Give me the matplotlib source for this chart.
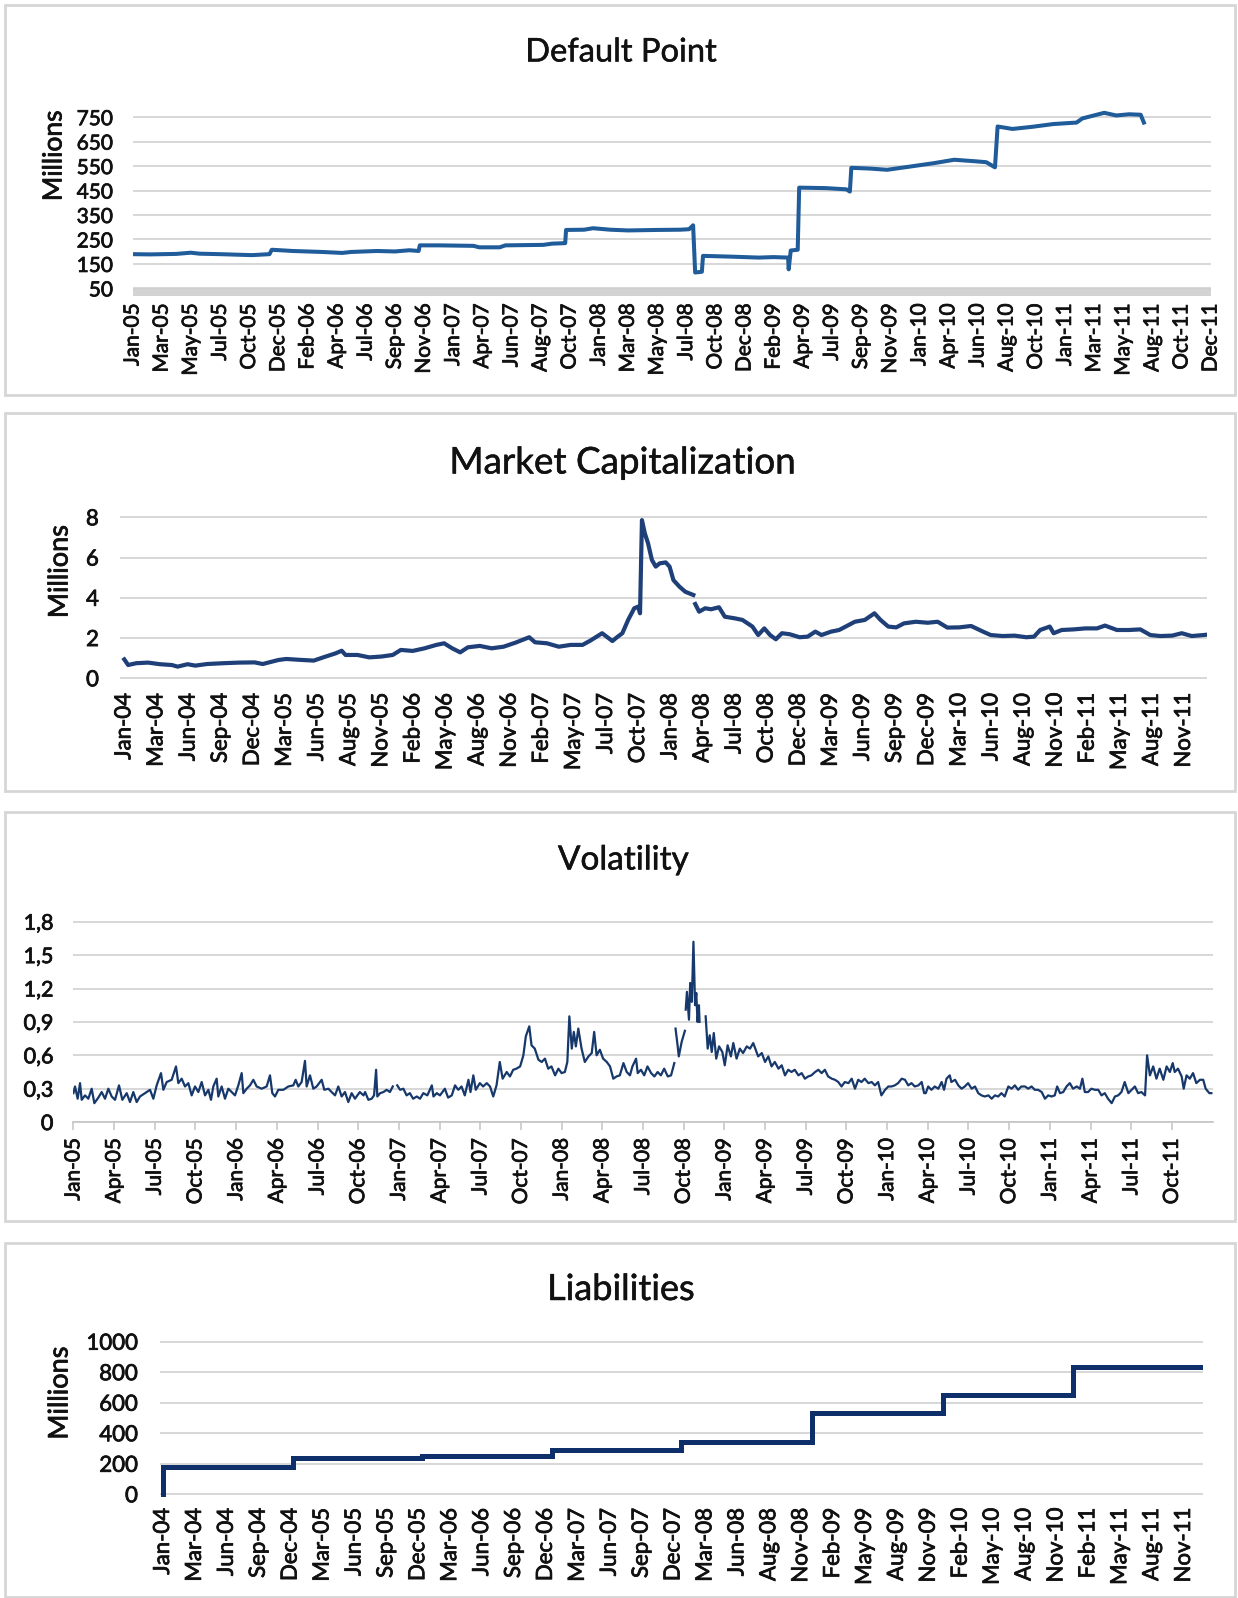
import numpy as np
import matplotlib
matplotlib.use("Agg")
import matplotlib.pyplot as plt
from matplotlib.patches import Rectangle
from matplotlib import patheffects as pe

plt.rcParams['font.family'] = ['Lato', 'DejaVu Sans']

W, H = 1238, 1598
nan = np.nan

# ---------------- Default Point ----------------
dp_labels = ["Jan-05", "Mar-05", "May-05", "Jul-05", "Oct-05", "Dec-05", "Feb-06", "Apr-06",
             "Jul-06", "Sep-06", "Nov-06", "Jan-07", "Apr-07", "Jun-07", "Aug-07", "Oct-07",
             "Jan-08", "Mar-08", "May-08", "Jul-08", "Oct-08", "Dec-08", "Feb-09", "Apr-09",
             "Jul-09", "Sep-09", "Nov-09", "Jan-10", "Apr-10", "Jun-10", "Aug-10", "Oct-10",
             "Jan-11", "Mar-11", "May-11", "Aug-11", "Oct-11", "Dec-11"]
dp_yticks = [50, 150, 250, 350, 450, 550, 650, 750]
dp_x = [0, 0.6, 1.5, 2.0, 2.3, 3.0, 4.1, 4.7, 4.78, 5.5, 6.5, 7.2, 7.5, 8.4, 9.0, 9.5, 9.82,
        9.86, 10.5, 11.7, 11.9, 12.6, 12.8, 14.1, 14.4, 14.85, 14.88, 15.5, 15.8, 16.4, 17.0,
        18.0, 18.8, 19.1, 19.24, 19.31, 19.54, 19.58, 20.5, 21.5, 22.0, 22.5, 22.52, 22.59,
        22.83, 22.88, 23.8, 24.5, 24.62, 24.67, 25.3, 25.9, 26.5, 27.5, 28.2, 28.9, 29.3,
        29.6, 29.69, 30.2, 30.9, 31.6, 32.4, 32.6, 33.35, 33.76, 34.2, 34.6, 34.71]
dp_v = [190, 189, 191, 196, 192, 190, 186, 190, 208, 203, 199, 195, 199, 203, 201, 206, 203,
        226, 226, 224, 218, 218, 226, 228, 233, 235, 289, 290, 296, 290, 287,
        289, 290, 292, 308, 115, 118, 183, 180, 176, 178, 176, 128, 205,
        208, 462, 460, 455, 446, 543, 540, 535, 545, 562, 576, 570, 566,
        545, 712, 702, 711, 722, 728, 745, 768, 757, 762, 760, 728]

# ---------------- Market Capitalization ----------------
mc_labels = ["Jan-04", "Mar-04", "Jun-04", "Sep-04", "Dec-04", "Mar-05", "Jun-05", "Aug-05",
             "Nov-05", "Feb-06", "May-06", "Aug-06", "Nov-06", "Feb-07", "May-07", "Jul-07",
             "Oct-07", "Jan-08", "Apr-08", "Jul-08", "Oct-08", "Dec-08", "Mar-09", "Jun-09",
             "Sep-09", "Dec-09", "Mar-10", "Jun-10", "Aug-10", "Nov-10", "Feb-11", "May-11",
             "Aug-11", "Nov-11"]
mc_yticks = [0, 2, 4, 6, 8]
mc_x = [0.0, 0.12, 0.37, 0.74, 1.11, 1.48, 1.66, 1.97, 2.21, 2.58, 3.08, 3.57, 4.06, 4.31,
        4.80, 5.04, 5.54, 5.90, 6.27, 6.58, 6.77, 6.89, 7.26, 7.63, 8.00, 8.36, 8.61, 8.98,
        9.35, 9.72, 9.96, 10.21, 10.46, 10.70, 11.07, 11.44, 11.81, 12.18, 12.61, 12.79,
        13.16, 13.53, 13.90, 14.27, 14.51, 14.88, 15.2, 15.35, 15.51, 15.69, 15.88, 16.00,
        16.06, 16.12, 16.21, 16.31, 16.43, 16.55, 16.67, 16.86, 16.98, 17.10, 17.29, 17.47,
        17.72, 17.75, 17.78, 17.90, 18.09, 18.27, 18.52, 18.70, 19.01, 19.25, 19.56, 19.74,
        19.93, 20.11, 20.29, 20.48, 20.72, 21.03, 21.28, 21.52, 21.71, 22.01, 22.26, 22.50,
        22.75, 23.06, 23.36, 23.55, 23.79, 24.04, 24.28, 24.65, 25.02, 25.33, 25.63, 26.00,
        26.37, 26.74, 26.98, 27.35, 27.72, 28.09, 28.33, 28.52, 28.82, 28.94, 29.19, 29.56,
        29.93, 30.29, 30.54, 30.91, 31.28, 31.64, 31.95, 32.26, 32.63, 32.93, 33.24, 33.61,
        33.73]
mc_v = [0.94, 0.66, 0.75, 0.78, 0.70, 0.66, 0.58, 0.70, 0.63, 0.71, 0.75, 0.78, 0.79, 0.71,
        0.91, 0.96, 0.91, 0.88, 1.08, 1.24, 1.37, 1.16, 1.16, 1.04, 1.08, 1.16, 1.41, 1.36,
        1.49, 1.66, 1.74, 1.49, 1.29, 1.54, 1.61, 1.49, 1.57, 1.77, 2.04, 1.79,
        1.74, 1.57, 1.66, 1.66, 1.87, 2.24, 1.85, 2.05, 2.24, 2.90, 3.48, 3.56,
        3.23, 7.86, 7.20, 6.71, 5.88, 5.55, 5.71, 5.76, 5.55, 4.88, 4.55, 4.30,
        4.14, nan, 3.69, 3.31, 3.48, 3.43, 3.53, 3.06, 2.98, 2.90, 2.57, 2.15,
        2.48, 2.15, 1.94, 2.24, 2.19, 2.04, 2.07, 2.32, 2.15, 2.32, 2.40, 2.60,
        2.81, 2.90, 3.23, 2.90, 2.57, 2.53, 2.73, 2.81, 2.76, 2.81, 2.52, 2.53,
        2.60, 2.32, 2.15, 2.10, 2.12, 2.04, 2.07, 2.40, 2.57, 2.24, 2.40, 2.43,
        2.48, 2.48, 2.62, 2.40, 2.40, 2.43, 2.15, 2.10, 2.12, 2.24, 2.10, 2.15,
        2.17]

# ---------------- Volatility ----------------
vol_labels = ["Jan-05", "Apr-05", "Jul-05", "Oct-05", "Jan-06", "Apr-06", "Jul-06", "Oct-06",
              "Jan-07", "Apr-07", "Jul-07", "Oct-07", "Jan-08", "Apr-08", "Jul-08", "Oct-08",
              "Jan-09", "Apr-09", "Jul-09", "Oct-09", "Jan-10", "Apr-10", "Jul-10", "Oct-10",
              "Jan-11", "Apr-11", "Jul-11", "Oct-11"]
vol_yticks = [0, 0.3, 0.6, 0.9, 1.2, 1.5, 1.8]
vol_yticklabels = ["0", "0,3", "0,6", "0,9", "1,2", "1,5", "1,8"]
vol_q = [0.00, 0.04, 0.105, 0.163, 0.204, 0.285, 0.367, 0.449, 0.515, 0.613, 0.695, 0.777,
         0.859, 0.941, 1.023, 1.121, 1.203, 1.310, 1.391, 1.473, 1.555, 1.637, 1.760, 1.883,
         1.965, 2.047, 2.153, 2.211, 2.293, 2.415, 2.522, 2.579, 2.661, 2.743, 2.825, 2.907,
         2.989, 3.071, 3.153, 3.235, 3.317, 3.382, 3.439, 3.521, 3.562, 3.644, 3.726, 3.808,
         3.890, 3.972, 4.054, 4.136, 4.177, 4.259, 4.341, 4.423, 4.504, 4.627, 4.750, 4.832,
         4.889, 4.955, 5.037, 5.160, 5.283, 5.406, 5.463, 5.528, 5.610, 5.692, 5.733, 5.815,
         5.897, 5.979, 6.102, 6.167, 6.266, 6.348, 6.430, 6.511, 6.593, 6.675, 6.757, 6.839,
         6.921,
         6.96, 7.04, 7.13, 7.17, 7.25, 7.33, 7.39, 7.44, 7.47, 7.54, 7.62, 7.70, 7.78, 7.85,
         7.90, 7.96, 8.03, 8.11, 8.19, 8.27, 8.35, 8.44, 8.52, 8.60, 8.70, 8.81, 8.85, 8.93,
         9.01, 9.13, 9.21, 9.30, 9.38, 9.46, 9.54, 9.62, 9.71, 9.76, 9.83, 9.89, 9.99, 10.07,
         10.16, 10.24, 10.32, 10.40, 10.48, 10.55, 10.65, 10.73, 10.81, 10.89, 10.98, 11.06,
         11.12, 11.205, 11.26, 11.34, 11.43, 11.51, 11.59, 11.67, 11.75, 11.84, 11.92, 12.00,
         12.08, 12.14, 12.19, 12.25, 12.30, 12.35, 12.41, 12.49, 12.57, 12.66, 12.74, 12.80,
         12.86, 12.94, 13.02, 13.11, 13.19, 13.27, 13.35, 13.43, 13.52, 13.60, 13.68, 13.74,
         13.83,
         13.87, 13.95, 14.03, 14.11, 14.20, 14.28, 14.36, 14.44, 14.52, 14.61, 14.69, 14.77,
         14.785, 14.80, 14.85, 14.88, 14.95, 15.03, 15.04, 15.05, 15.08, 15.13, 15.16, 15.20,
         15.24, 15.28, 15.31, 15.34, 15.375, 15.39, 15.47, 15.54, 15.59, 15.64, 15.69, 15.74,
         15.80, 15.87, 15.95, 16.01, 16.08, 16.16, 16.22, 16.30, 16.38, 16.46, 16.55, 16.63,
         16.71, 16.77, 16.83, 16.92, 17.00, 17.08, 17.16, 17.24, 17.33, 17.41, 17.49, 17.57,
         17.65, 17.73, 17.82, 17.90, 17.98, 18.06, 18.14, 18.23, 18.31, 18.39, 18.47, 18.55,
         18.64, 18.72, 18.80, 18.88, 18.96, 19.05, 19.13, 19.21, 19.29, 19.37, 19.45, 19.54,
         19.62, 19.70, 19.78, 19.86, 19.95, 20.03, 20.11, 20.19, 20.27, 20.36, 20.44, 20.52,
         20.60, 20.68, 20.77, 20.85,
         20.91, 20.95, 21.01, 21.09, 21.17, 21.26, 21.34, 21.40, 21.46, 21.54, 21.58, 21.67,
         21.75, 21.83, 21.91, 21.99, 22.08, 22.16, 22.24, 22.32, 22.40, 22.49, 22.57, 22.65,
         22.73, 22.81, 22.89, 22.98, 23.06, 23.14, 23.22, 23.30, 23.39, 23.47, 23.55, 23.63,
         23.71, 23.80, 23.88, 23.96, 24.04, 24.12, 24.18, 24.25, 24.33, 24.41, 24.49, 24.57,
         24.66, 24.74, 24.80, 24.86, 24.94, 25.02, 25.11, 25.19, 25.27, 25.35, 25.43, 25.52,
         25.60, 25.68, 25.76, 25.84, 25.93, 26.01, 26.09, 26.17, 26.25, 26.34, 26.39, 26.46,
         26.54, 26.62, 26.70, 26.79, 26.87, 26.95, 27.02, 27.07, 27.15, 27.24, 27.29, 27.36,
         27.44, 27.52, 27.60, 27.69, 27.77, 27.83, 27.92, 27.97]
vol_v = [0.26, 0.32, 0.21, 0.35, 0.20, 0.24, 0.21, 0.30, 0.17, 0.22, 0.27, 0.21,
         0.30, 0.23, 0.20, 0.33, 0.20, 0.26, 0.18, 0.27, 0.18, 0.23, 0.26, 0.29,
         0.21, 0.33, 0.44, 0.29, 0.36, 0.38, 0.50, 0.35, 0.39, 0.32, 0.35, 0.24,
         0.32, 0.27, 0.36, 0.24, 0.29, 0.20, 0.32, 0.39, 0.23, 0.32, 0.21, 0.30,
         0.27, 0.24, 0.33, 0.44, 0.26, 0.30, 0.33, 0.38, 0.32, 0.30, 0.32, 0.42,
         0.26, 0.23, 0.29, 0.29, 0.32, 0.33, 0.38, 0.32, 0.36, 0.55, 0.32, 0.42,
         0.30, 0.32, 0.38, 0.29, 0.30, 0.27, 0.24, 0.32, 0.23, 0.27, 0.18, 0.26,
         0.21,
         0.23, 0.27, 0.24, 0.27, 0.20, 0.21, 0.24, 0.47, 0.23, 0.26, 0.27, 0.29, 0.27, 0.32,
         nan, 0.33, 0.29, 0.30, 0.24, 0.26, 0.21, 0.23, 0.21, 0.26, 0.24, 0.33, 0.23, 0.26,
         0.24, 0.30, 0.22, 0.24, 0.33, 0.29, 0.32, 0.24, 0.38, 0.27, 0.42, 0.29, 0.35, 0.32,
         0.35, 0.32, 0.23, 0.33, 0.54, 0.39, 0.45, 0.41, 0.47, 0.48, 0.50, 0.60,
         0.77, 0.86, 0.69, 0.66, 0.56, 0.54, 0.57, 0.48, 0.50, 0.42, 0.48, 0.44,
         0.45, 0.54, 0.95, 0.66, 0.81, 0.68, 0.84, 0.66, 0.54, 0.59, 0.62, 0.81,
         0.60, 0.65, 0.57, 0.54, 0.50, 0.39, 0.41, 0.42, 0.53, 0.45, 0.42, 0.50,
         0.57,
         0.44, 0.47, 0.42, 0.50, 0.44, 0.41, 0.45, 0.42, 0.48, 0.41, 0.42, 0.53,
         nan, 0.84, 0.69, 0.59, 0.72, 0.82, nan, 1.01, 1.17, 0.92, 1.25, 1.08,
         1.62, 1.05, 1.16, 0.90, 1.05, 0.90, nan, 0.95, 0.66, 0.78, 0.63, 0.80,
         0.57, 0.68, 0.63, 0.51, 0.69, 0.59, 0.71, 0.57, 0.66, 0.62, 0.68, 0.66,
         0.71, 0.65, 0.59, 0.62, 0.54, 0.59, 0.50, 0.54, 0.48, 0.51, 0.42, 0.47,
         0.45, 0.47, 0.42, 0.44, 0.39, 0.41, 0.42, 0.45, 0.47, 0.44, 0.47, 0.41,
         0.39, 0.38, 0.36, 0.32, 0.36, 0.35, 0.39, 0.30, 0.38, 0.36, 0.39, 0.35,
         0.36, 0.33, 0.36, 0.24, 0.29, 0.32, 0.32, 0.33, 0.35, 0.39, 0.38, 0.33,
         0.35, 0.32, 0.33, 0.36,
         0.26, 0.26, 0.32, 0.29, 0.32, 0.30, 0.36, 0.29, 0.39, 0.42, 0.36, 0.38,
         0.33, 0.30, 0.32, 0.35, 0.30, 0.32, 0.26, 0.24, 0.23, 0.24, 0.21, 0.24,
         0.23, 0.26, 0.23, 0.32, 0.30, 0.33, 0.29, 0.32, 0.32, 0.30, 0.32, 0.29,
         0.29, 0.27, 0.21, 0.24, 0.23, 0.24, 0.32, 0.26, 0.27, 0.32, 0.35, 0.30,
         0.32, 0.30, 0.39, 0.27, 0.27, 0.30, 0.29, 0.29, 0.24, 0.26, 0.21, 0.17,
         0.23, 0.24, 0.27, 0.36, 0.26, 0.29, 0.32, 0.26, 0.27, 0.24, 0.60, 0.42,
         0.50, 0.39, 0.48, 0.38, 0.50, 0.45, 0.53, 0.45, 0.48, 0.41, 0.30, 0.42,
         0.39, 0.44, 0.35, 0.38, 0.38, 0.30, 0.26, 0.26]

# ---------------- Liabilities ----------------
li_labels = ["Jan-04", "Mar-04", "Jun-04", "Sep-04", "Dec-04", "Mar-05", "Jun-05", "Sep-05",
             "Dec-05", "Mar-06", "Jun-06", "Sep-06", "Dec-06", "Mar-07", "Jun-07", "Sep-07",
             "Dec-07", "Mar-08", "Jun-08", "Aug-08", "Nov-08", "Feb-09", "May-09", "Aug-09",
             "Nov-09", "Feb-10", "May-10", "Aug-10", "Nov-10", "Feb-11", "May-11", "Aug-11",
             "Nov-11"]
li_yticks = [0, 200, 400, 600, 800, 1000]
li_x = [0, 0, 4.06, 8.12, 12.2, 16.24, 20.34, 24.45, 28.51, 32.6]
li_v = [0, 178, 237, 254, 288, 346, 535, 650, 834, 834]

# ---------------- styling ----------------
GRID = '#cdcdcd'
BOX = '#d6d6d6'
TXT = '#111111'
EFF = [pe.withStroke(linewidth=0.55, foreground=TXT)]
EFF_T = [pe.withStroke(linewidth=0.35, foreground=TXT)]


def rect_from_px(xpx, xref, ypx, yref, xlim, ylim):
    sx = (xpx[1] - xpx[0]) / (xref[1] - xref[0])
    sy = (ypx[1] - ypx[0]) / (yref[1] - yref[0])
    lpx = xpx[0] + (xlim[0] - xref[0]) * sx
    rpx = xpx[0] + (xlim[1] - xref[0]) * sx
    bpx = ypx[0] + (ylim[0] - yref[0]) * sy
    tpx = ypx[0] + (ylim[1] - yref[0]) * sy
    return [lpx / W, 1 - bpx / H, (rpx - lpx) / W, (bpx - tpx) / H]


def base_style(ax, xlabels, yticks, yticklabels, fs_y, fs_x, pad_y, pad_x):
    for s in ax.spines.values():
        s.set_visible(False)
    ax.set_xticks(range(len(xlabels)))
    ax.set_xticklabels(xlabels, rotation=90)
    ax.set_yticks(yticks)
    ax.set_yticklabels(yticklabels)
    ax.yaxis.grid(True, color=GRID, lw=1.1)
    ax.xaxis.grid(False)
    ax.set_axisbelow(True)
    ax.tick_params(axis='y', length=0, pad=pad_y, labelsize=fs_y, labelcolor=TXT)
    ax.tick_params(axis='x', length=0, pad=pad_x, labelsize=fs_x, labelcolor=TXT)
    for t in ax.get_xticklabels() + ax.get_yticklabels():
        t.set_path_effects(EFF)
    ax.set_facecolor('none')


fig = plt.figure(figsize=(W / 100, H / 100), dpi=100)
fig.patch.set_facecolor('white')

# panel boxes
for (x0, y0, x1, y1) in [(5, 5, 1235, 395), (5, 413, 1235, 791),
                         (5, 812, 1235, 1221), (5, 1243, 1235, 1597)]:
    fig.patches.append(Rectangle((x0 / W, 1 - y1 / H), (x1 - x0) / W, (y1 - y0) / H,
                                 transform=fig.transFigure, fill=False,
                                 edgecolor=BOX, lw=2.0))


def title(x, y, s, fs):
    fig.text(x / W, 1 - y / H, s, ha='center', va='baseline', fontsize=fs, color=TXT,
             path_effects=EFF_T)


def millions(x, y, fs):
    fig.text(x / W, 1 - y / H, "Millions", rotation=90, ha='center', va='center',
             fontsize=fs, color=TXT, path_effects=EFF)


# ---- Panel 1: Default Point ----
xl, yl = (0, 37), (17, 800)
ax1 = fig.add_axes(rect_from_px((132.5, 1210.6), (0, 37), (288.4, 117.2), (50, 750), xl, yl))
ax1.set_xlim(*xl)
ax1.set_ylim(*yl)
base_style(ax1, dp_labels, dp_yticks, [str(t) for t in dp_yticks], 15, 15, 14, 5)
ax1.axhspan(17, 50, color='#d3d3d3', lw=0, zorder=0.5)
ax1.plot(dp_x, dp_v, color='#1f5c99', lw=2.9, solid_joinstyle='round', zorder=3)
title(621, 61.5, "Default Point", 23.5)
millions(54, 155.7, 19)

# ---- Panel 2: Market Capitalization ----
xl, yl = (-0.12, 33.73), (-0.1, 8.1)
ax2 = fig.add_axes(rect_from_px((124.3, 1184.0), (0, 33), (678.3, 517.3), (0, 8), xl, yl))
ax2.set_xlim(*xl)
ax2.set_ylim(*yl)
base_style(ax2, mc_labels, mc_yticks, [str(t) for t in mc_yticks], 16, 16, 15.5, 9)
ax2.plot(mc_x, mc_v, color='#1e3f78', lw=3.0, solid_joinstyle='round', zorder=3)
title(622.6, 473.5, "Market Capitalization", 26.5)
millions(60, 571.5, 19.5)

# ---- Panel 3: Volatility ----
xl, yl = (0, 28), (0, 1.82)
ax3 = fig.add_axes(rect_from_px((73.4, 1171.9), (0, 27), (1122.1, 921.7), (0, 1.8), xl, yl))
ax3.set_xlim(*xl)
ax3.set_ylim(*yl)
base_style(ax3, vol_labels, vol_yticks, vol_yticklabels, 15.5, 15, 14.5, 6)
ax3.spines['bottom'].set_visible(True)
ax3.spines['bottom'].set_color('#c4c4c4')
ax3.spines['bottom'].set_linewidth(1.2)
ax3.tick_params(axis='x', length=5.5, width=1.1, color='#c4c4c4', direction='out')
ax3.plot(vol_q, vol_v, color='#17386b', lw=1.6, solid_joinstyle='round', zorder=3)
title(623.6, 869.5, "Volatility", 24)

# ---- Panel 4: Liabilities ----
xl, yl = (-0.09, 32.6), (-15, 1015)
ax4 = fig.add_axes(rect_from_px((163.0, 1184.0), (0, 32), (1494.3, 1341.7), (0, 1000), xl, yl))
ax4.set_xlim(*xl)
ax4.set_ylim(*yl)
base_style(ax4, li_labels, li_yticks, [str(t) for t in li_yticks], 16, 16, 16, 8)
ax4.plot(li_x, li_v, color='#0f2f6a', lw=3.6, drawstyle='steps-post',
         solid_joinstyle='miter', zorder=3)
title(620.6, 1300, "Liabilities", 26)
millions(60, 1393, 19.5)

fig.savefig("out.png", dpi=100, facecolor='white')
